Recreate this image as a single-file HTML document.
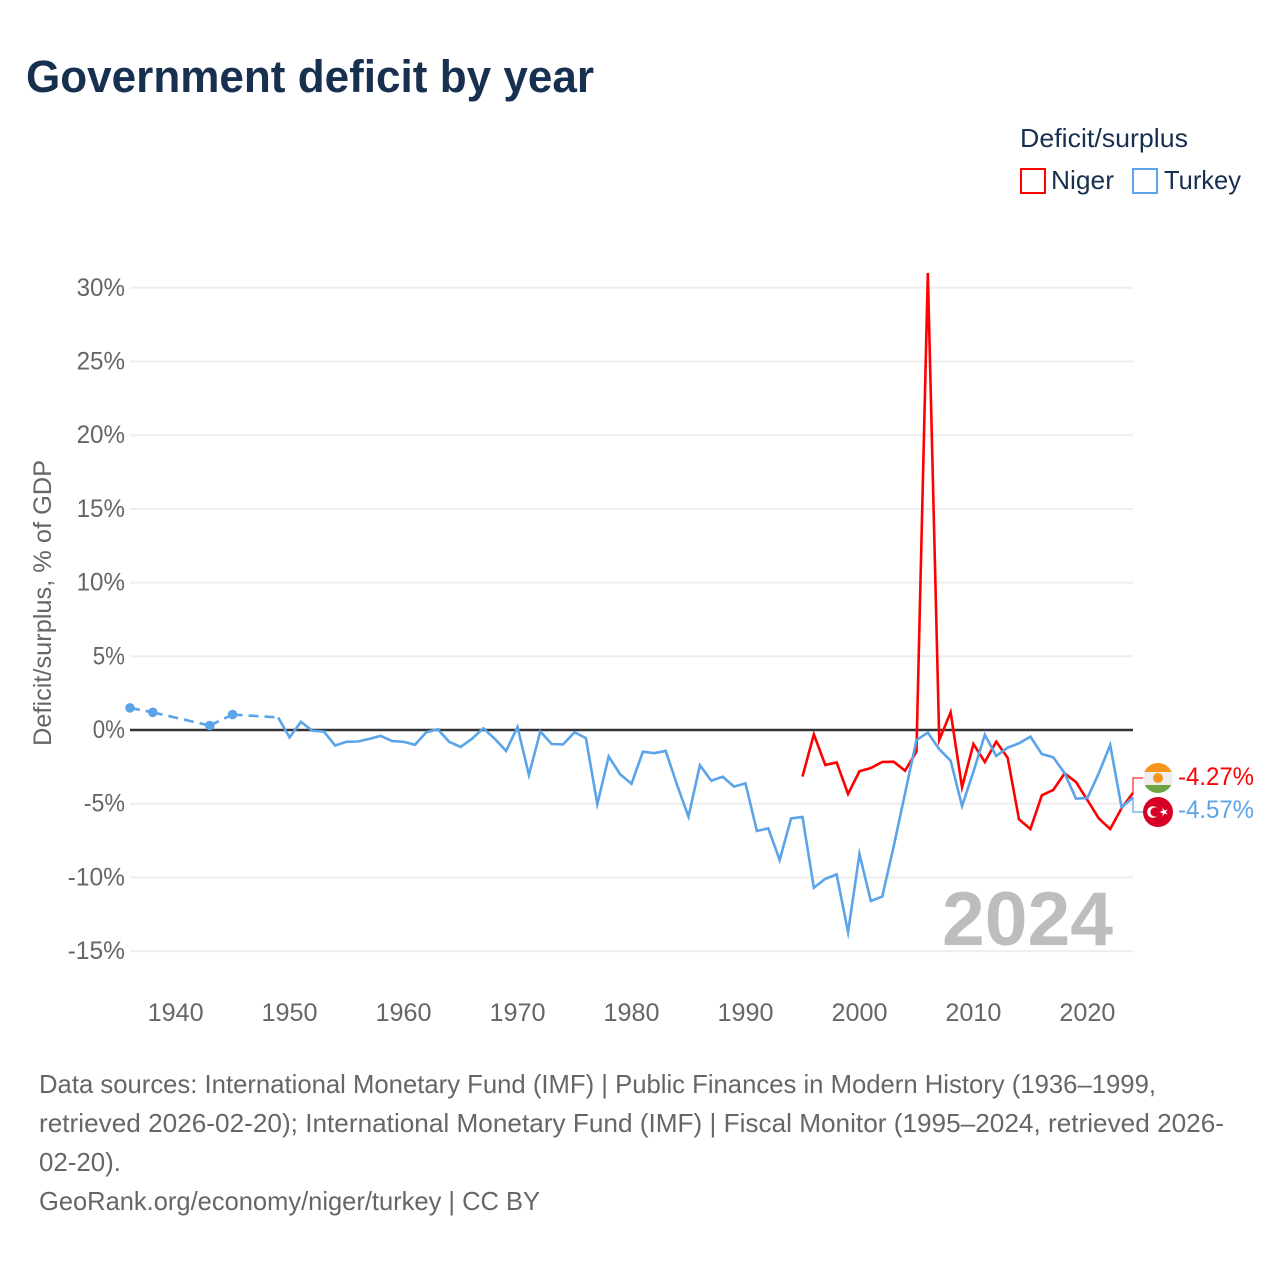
<!DOCTYPE html>
<html lang="en">
<head>
<meta charset="utf-8">
<title>Government deficit by year</title>
<style>
html,body{margin:0;padding:0;background:#fff;width:1280px;height:1280px;overflow:hidden}
svg{display:block}
text{font-family:"Liberation Sans",sans-serif}
</style>
</head>
<body>
<svg id="chart" xmlns="http://www.w3.org/2000/svg" width="1280" height="1280" viewBox="0 0 1280 1280">
  <rect width="1280" height="1280" fill="#fff"/>
  <text x="26" y="92" font-size="45" font-weight="700" fill="#18304f" textLength="568" lengthAdjust="spacingAndGlyphs">Government deficit by year</text>

  <text x="1020" y="147" font-size="26" fill="#18304f" textLength="168" lengthAdjust="spacingAndGlyphs">Deficit/surplus</text>
  <rect x="1021" y="169" width="24" height="24" fill="none" stroke="#ff0000" stroke-width="2"/>
  <text x="1051" y="189" font-size="26" fill="#18304f" textLength="63" lengthAdjust="spacingAndGlyphs">Niger</text>
  <rect x="1133" y="169" width="24" height="24" fill="none" stroke="#5ba4ea" stroke-width="2"/>
  <text x="1164" y="189" font-size="26" fill="#18304f" textLength="77" lengthAdjust="spacingAndGlyphs">Turkey</text>

  <text transform="translate(51,603) rotate(-90)" text-anchor="middle" font-size="25" fill="#666" textLength="286" lengthAdjust="spacingAndGlyphs">Deficit/surplus, % of GDP</text>

  <g id="grid"></g>
  <g id="ylabels"></g>
  <g id="xlabels"></g>

  <text x="942" y="945" font-size="76" font-weight="700" fill="#bdbdbd" textLength="171" lengthAdjust="spacingAndGlyphs">2024</text>

  <g id="series"></g>

  <path id="connector-niger" fill="none" stroke="#ff0000" stroke-opacity="0.7" stroke-width="1.5"/>
  <path id="connector-turkey" fill="none" stroke="#5ba4ea" stroke-opacity="0.8" stroke-width="1.5"/>

  <g>
    <clipPath id="niger-clip"><circle cx="1158" cy="778" r="15"/></clipPath>
    <g clip-path="url(#niger-clip)">
      <rect x="1143" y="763" width="30" height="9" fill="#f7941d"/>
      <rect x="1143" y="772" width="30" height="13" fill="#eeeeee"/>
      <rect x="1143" y="785" width="30" height="8" fill="#6da544"/>
      <circle cx="1158" cy="778" r="5" fill="#f7941d"/>
    </g>
  </g>
  <g>
    <circle cx="1158" cy="812" r="15" fill="#d80027"/>
    <circle cx="1153" cy="812" r="5.8" fill="#fff"/>
    <circle cx="1155" cy="812" r="4.6" fill="#d80027"/>
    <polygon points="1159.2,812 1162.4,813.1 1162.4,816.2 1164.4,813.5 1167.6,814.5 1165.6,812 1167.6,809.5 1164.4,810.5 1162.4,807.8 1162.4,810.9" fill="#fff" transform="translate(1.2 0) scale(1) rotate(0) translate(-1 0)"/>
  </g>

  <text id="label-niger" x="1178" y="785" font-size="25" fill="#ff0000" textLength="76" lengthAdjust="spacingAndGlyphs"></text>
  <text id="label-turkey" x="1178" y="818" font-size="25" fill="#5ba4ea" textLength="76" lengthAdjust="spacingAndGlyphs"></text>

  <g font-size="26" fill="#666">
    <text x="39" y="1093" textLength="1117" lengthAdjust="spacingAndGlyphs">Data sources: International Monetary Fund (IMF) | Public Finances in Modern History (1936–1999,</text>
    <text x="39" y="1132" textLength="1185" lengthAdjust="spacingAndGlyphs">retrieved 2026-02-20); International Monetary Fund (IMF) | Fiscal Monitor (1995–2024, retrieved 2026-</text>
    <text x="39" y="1171" textLength="82" lengthAdjust="spacingAndGlyphs">02-20).</text>
    <text x="39" y="1210" textLength="501" lengthAdjust="spacingAndGlyphs">GeoRank.org/economy/niger/turkey | CC BY</text>
  </g>
</svg>
<script>
const yTicks = [30, 25, 20, 15, 10, 5, 0, -5, -10, -15];
const xTicks = [1940, 1950, 1960, 1970, 1980, 1990, 2000, 2010, 2020];

const turkeyYears = [1936, 1938, 1943, 1945, 1949, 1950, 1951, 1952, 1953, 1954, 1955, 1956, 1957, 1958, 1959, 1960, 1961, 1962, 1963, 1964, 1965, 1966, 1967, 1968, 1969, 1970, 1971, 1972, 1973, 1974, 1975, 1976, 1977, 1978, 1979, 1980, 1981, 1982, 1983, 1984, 1985, 1986, 1987, 1988, 1989, 1990, 1991, 1992, 1993, 1994, 1995, 1996, 1997, 1998, 1999, 2000, 2001, 2002, 2003, 2004, 2005, 2006, 2007, 2008, 2009, 2010, 2011, 2012, 2013, 2014, 2015, 2016, 2017, 2018, 2019, 2020, 2021, 2022, 2023, 2024];
const turkeyValues = [1.5, 1.2, 0.3, 1.05, 0.85, -0.5, 0.55, -0.05, -0.1, -1.05, -0.8, -0.78, -0.6, -0.4, -0.75, -0.8, -1.0, -0.15, 0.05, -0.8, -1.15, -0.6, 0.12, -0.6, -1.42, 0.2, -3.05, -0.1, -0.95, -0.98, -0.15, -0.55, -5.03, -1.8, -3.0, -3.65, -1.47, -1.57, -1.42, -3.73, -5.88, -2.39, -3.44, -3.17, -3.84, -3.62, -6.85, -6.67, -8.82, -6.0, -5.9, -10.7, -10.1, -9.8, -13.72, -8.41, -11.6, -11.3, -7.9, -4.3, -0.68, -0.18, -1.3, -2.08, -5.16, -2.83, -0.32, -1.76, -1.2, -0.9, -0.45, -1.63, -1.85, -2.93, -4.66, -4.61, -2.93, -1.02, -5.25, -4.57];

const nigerYears = [1995, 1996, 1997, 1998, 1999, 2000, 2001, 2002, 2003, 2004, 2005, 2006, 2007, 2008, 2009, 2010, 2011, 2012, 2013, 2014, 2015, 2016, 2017, 2018, 2019, 2020, 2021, 2022, 2023, 2024];
const nigerValues = [-3.16, -0.3, -2.37, -2.2, -4.34, -2.8, -2.58, -2.17, -2.15, -2.76, -1.47, 31.0, -0.68, 1.2, -3.89, -0.95, -2.17, -0.79, -1.88, -6.06, -6.72, -4.43, -4.07, -2.94, -3.53, -4.75, -6.0, -6.72, -5.3, -4.27];

const NS = 'http://www.w3.org/2000/svg';
const plotLeft = 130, plotRight = 1133, yearStart = 1936, yearEnd = 2024;
const zeroY = 730, pxPerPct = 14.74;
const colorNiger = '#ff0000', colorTurkey = '#5ba4ea';
const xScale = function (year) { return plotLeft + (year - yearStart) * (plotRight - plotLeft) / (yearEnd - yearStart); };
const yScale = function (value) { return zeroY - value * pxPerPct; };

function make(tag, attrs, parent) {
  const el = document.createElementNS(NS, tag);
  Object.keys(attrs).forEach(function (k) { el.setAttribute(k, attrs[k]); });
  parent.appendChild(el);
  return el;
}

const grid = document.getElementById('grid');
const ylabels = document.getElementById('ylabels');
const xlabels = document.getElementById('xlabels');
const seriesGroup = document.getElementById('series');

yTicks.filter(function (t) { return t !== 0; }).forEach(function (t) {
  const line = make('line', { x1: plotLeft, x2: plotRight, y1: yScale(t), y2: yScale(t), stroke: '#eeeeee', 'stroke-width': 2 }, grid);
  
  
});
const zeroLine = make('line', { x1: plotLeft, x2: plotRight, y1: yScale(0), y2: yScale(0), stroke: '#333333', 'stroke-width': 2.5 }, grid);



yTicks.forEach(function (t) {
  const s = t + '%';
  const width = 16.2 * s.replace(/[-%]/g, '').length + 16 + (t < 0 ? 9 : 0);
  const label = make('text', { x: 125 - width, y: yScale(t) + 8, 'font-size': 25, fill: '#666', textLength: width, lengthAdjust: 'spacingAndGlyphs' }, ylabels);
  
  
  label.textContent = s;
});

xTicks.forEach(function (t) {
  const label = make('text', { x: xScale(t) - 28, y: 1021, 'font-size': 25, fill: '#666', textLength: 56, lengthAdjust: 'spacingAndGlyphs' }, xlabels);
  
  
  label.textContent = t;
});

function drawSeries(name, years, values, color) {
  const group = make('g', {}, seriesGroup);
  
  
  let run = [];
  function flush() {
    if (run.length > 1) {
      const line = make('polyline', { points: run.join(' '), fill: 'none', stroke: color, 'stroke-width': 2.6, 'stroke-linejoin': 'miter', 'stroke-miterlimit': 6 }, group);
      
      
    }
    run = [];
  }
  years.forEach(function (year, i) {
    const px = xScale(year), py = yScale(values[i]);
    const hasPrev = i > 0 && years[i - 1] === year - 1;
    const hasNext = i < years.length - 1 && years[i + 1] === year + 1;
    if (i > 0 && !hasPrev) {
      flush();
      const gap = make('line', { x1: xScale(years[i - 1]), y1: yScale(values[i - 1]), x2: px, y2: py, stroke: color, 'stroke-width': 2.6, 'stroke-dasharray': '10 6' }, group);
      
      
    }
    run.push(px.toFixed(2) + ',' + py.toFixed(2));
    if (!hasPrev && !hasNext) {
      const dot = make('circle', { cx: px, cy: py, r: 4.8, fill: color }, group);
      
      
    }
  });
  flush();
}

drawSeries('niger', nigerYears, nigerValues, colorNiger);
drawSeries('turkey', turkeyYears, turkeyValues, colorTurkey);

const lastNiger = nigerValues[nigerValues.length - 1];
const lastTurkey = turkeyValues[turkeyValues.length - 1];
document.getElementById('label-niger').textContent = lastNiger.toFixed(2) + '%';
document.getElementById('label-turkey').textContent = lastTurkey.toFixed(2) + '%';
document.getElementById('connector-niger').setAttribute('d', 'M' + plotRight + ' ' + yScale(lastNiger) + ' V778 H1143');
document.getElementById('connector-turkey').setAttribute('d', 'M' + plotRight + ' ' + yScale(lastTurkey) + ' V812 H1143');
</script>
</body>
</html>
